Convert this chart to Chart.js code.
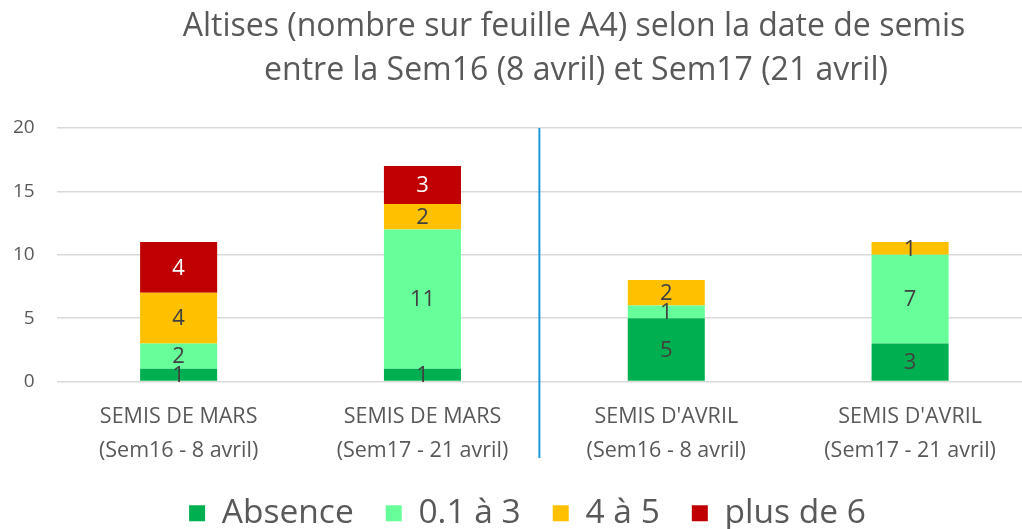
<!DOCTYPE html>
<html>
<head>
<meta charset="utf-8">
<script src="https://cdn.jsdelivr.net/npm/chart.js@4"></script>
<style>
  html, body { margin: 0; padding: 0; background: #fff; overflow: hidden; }
  #wrap { position: absolute; left: 0; top: 0; width: 1032px; height: 529px; }
</style>
</head>
<body>
<div id="wrap"><canvas id="myChart" width="1032" height="529"></canvas></div>
<script>
const categories = [
  ['SEMIS DE MARS', '(Sem16 - 8 avril)'],
  ['SEMIS DE MARS', '(Sem17 - 21 avril)'],
  ["SEMIS D'AVRIL", '(Sem16 - 8 avril)'],
  ["SEMIS D'AVRIL", '(Sem17 - 21 avril)']
];
const absence = [1, 1, 5, 3];
const de01a3 = [2, 11, 1, 7];
const de4a5 = [4, 2, 2, 1];
const plusDe6 = [4, 3, 0, 0];
const titleLines = ['Altises (nombre sur feuille A4) selon la date de semis',
                    'entre la Sem16 (8 avril) et Sem17 (21 avril)'];

const FONT = "'Open Sans', sans-serif";
const GREY = '#595959';

// title drawn a bit right of center, like the original
const titlePlugin = {
  id: 'titleText',
  afterDraw(chart) {
    const ctx = chart.ctx;
    ctx.save();
    ctx.fillStyle = GREY;
    ctx.font = '32px ' + FONT;
    ctx.textAlign = 'center';
    ctx.textBaseline = 'middle';
    ctx.fillText(titleLines[0], 574, 27);
    ctx.fillText(titleLines[1], 576, 71);
    ctx.restore();
  }
};

// separator between mars and avril
const separator = {
  id: 'separator',
  afterDatasetsDraw(chart) {
    const x = chart.scales.x;
    const y = chart.scales.y;
    const px = (x.getPixelForValue(1) + x.getPixelForValue(2)) / 2 - 5;
    const ctx = chart.ctx;
    ctx.save();
    ctx.strokeStyle = '#1a9bd7';
    ctx.lineWidth = 2;
    ctx.beginPath();
    ctx.moveTo(px, y.getPixelForValue(20));
    ctx.lineTo(px, 458);
    ctx.stroke();
    ctx.restore();
  }
};

// value labels in the middle of each segment
const valueLabels = {
  id: 'valueLabels',
  afterDatasetsDraw(chart) {
    const ctx = chart.ctx;
    ctx.save();
    ctx.font = '22px ' + FONT;
    ctx.textAlign = 'center';
    ctx.textBaseline = 'middle';
    chart.data.datasets.forEach((ds, i) => {
      chart.getDatasetMeta(i).data.forEach((bar, j) => {
        const v = ds.data[j];
        if (!v) return;
        ctx.fillStyle = i === 3 ? '#ffffff' : '#404040';
        ctx.fillText(v, bar.x, (bar.y + bar.base) / 2 + 1);
      });
    });
    ctx.restore();
  }
};

// legend sits a little right of the canvas centre in the original
const legendShift = {
  id: 'legendShift',
  afterLayout(chart) {
    chart.legend.left += 16;
    chart.legend.right += 16;
  }
};

new Chart('myChart', {
  type: 'bar',
  data: {
    labels: categories,
    datasets: [
      { label: 'Absence', data: absence, backgroundColor: '#00b050' },
      { label: '0.1 à 3', data: de01a3, backgroundColor: '#66ff99' },
      { label: '4 à 5', data: de4a5, backgroundColor: '#ffc000' },
      { label: 'plus de 6', data: plusDe6, backgroundColor: '#c00000' }
    ]
  },
  options: {
    responsive: false,
    animation: false,
    layout: { padding: { top: 128, left: -9, right: 0, bottom: -11 } },
    datasets: { bar: { barPercentage: 1, categoryPercentage: 0.316 } },
    scales: {
      x: {
        stacked: true,
        grid: { display: false },
        border: { display: false },
        ticks: { color: GREY, font: { family: FONT, size: 21.5, lineHeight: 1.58 }, padding: 10, maxRotation: 0 },
        afterFit(scale) { scale.height = 83; }
      },
      y: {
        stacked: true,
        min: 0,
        max: 20,
        grid: { color: '#d9d9d9', lineWidth: 1.5, drawTicks: false },
        border: { display: false },
        ticks: { stepSize: 5, color: GREY, font: { family: FONT, size: 19 }, padding: 22 }
      }
    },
    plugins: {
      title: { display: false },
      tooltip: { enabled: false },
      legend: {
        position: 'bottom',
        labels: {
          color: GREY,
          font: { family: FONT, size: 33.5 },
          boxWidth: 16,
          boxHeight: 16,
          padding: 32
        }
      }
    }
  },
  plugins: [titlePlugin, separator, valueLabels, legendShift]
});
</script>
</body>
</html>
